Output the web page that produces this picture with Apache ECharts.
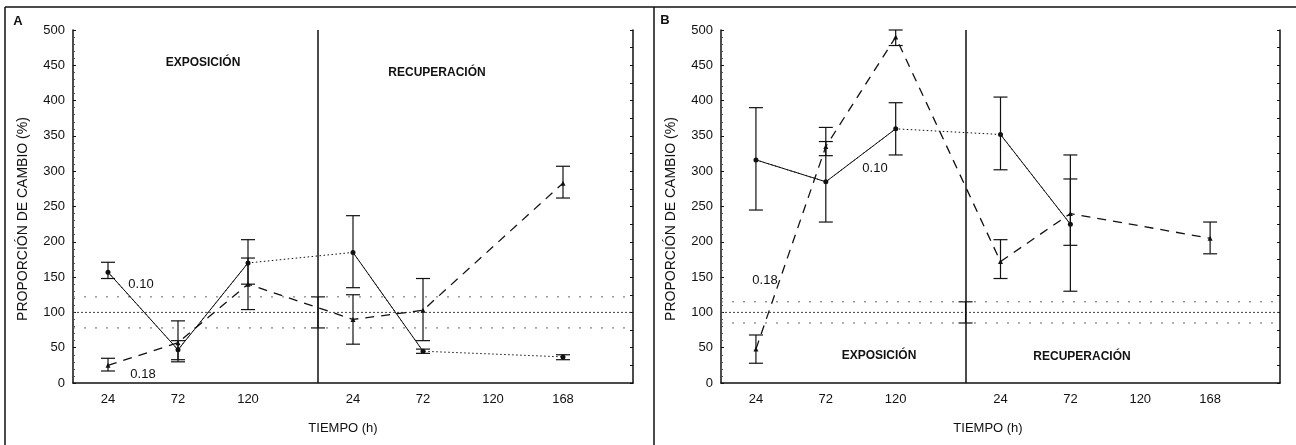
<!DOCTYPE html>
<html>
<head>
<meta charset="utf-8">
<script src="https://cdn.jsdelivr.net/npm/echarts@6/dist/echarts.min.js"></script>
<style>
html, body { margin: 0; padding: 0; background: #fff; }
#chart { width: 1296px; height: 445px; }
</style>
</head>
<body>
<div id="chart"></div>
<script>
var hoursExp = [24, 72, 120];
var hoursRec = [24, 72, 120, 168];
var yTicks = [0, 50, 100, 150, 200, 250, 300, 350, 400, 450, 500];

// Panel A, 0.10
var a10Exp = [157, 47, 170], a10ExpLo = [148, 33, 140], a10ExpHi = [171, 60, 203];
var a10Rec = [185, 45, null, 37], a10RecLo = [135, 42, null, 33], a10RecHi = [237, 48, null, 40];
// Panel A, 0.18
var a18Exp = [25, 57, 140], a18ExpLo = [17, 30, 104], a18ExpHi = [35, 88, 177];
var a18Rec = [90, 103, null, 283], a18RecLo = [55, 60, null, 262], a18RecHi = [125, 148, null, 307];
// Panel A, control (mean and band)
var aCtrl = 100, aCtrlBand = [78, 122];

// Panel B, 0.10
var b10Exp = [316, 285, 360], b10ExpLo = [245, 228, 323], b10ExpHi = [390, 362, 397];
var b10Rec = [352, 225, null, null], b10RecLo = [302, 130, null, null], b10RecHi = [405, 323, null, null];
// Panel B, 0.18
var b18Exp = [48, 335, 490], b18ExpLo = [28, 322, 478], b18ExpHi = [68, 342, 500];
var b18Rec = [172, 240, null, 205], b18RecLo = [148, 195, null, 183], b18RecHi = [203, 289, null, 228];
// Panel B, control
var bCtrl = 100, bCtrlBand = [85, 115];

var FONT = "'Liberation Sans', Arial, sans-serif";
var INK = '#111';

// x positions: exposure hours sit between ticks, recovery hours on them
function posExp(i) { return i + 0.5; }
function posRec(j) { return hoursExp.length + 1 + j; }
var dividerPos = hoursExp.length + 0.5;
var xMax = hoursExp.length + 1 + hoursRec.length;

var tickPos = [], tickText = {};
hoursExp.forEach(function (h, i) { tickPos.push(posExp(i)); tickText[posExp(i)] = String(h); });
hoursRec.forEach(function (h, j) { tickPos.push(posRec(j)); tickText[posRec(j)] = String(h); });

function points(exp, rec) {
    var pts = [];
    exp.forEach(function (v, i) { if (v != null) pts.push([posExp(i), v]); });
    rec.forEach(function (v, j) { if (v != null) pts.push([posRec(j), v]); });
    return pts;
}

function bars(exp, expLo, expHi, rec, recLo, recHi) {
    var out = [];
    exp.forEach(function (v, i) { if (v != null) out.push([posExp(i), expLo[i], expHi[i]]); });
    rec.forEach(function (v, j) { if (v != null) out.push([posRec(j), recLo[j], recHi[j]]); });
    return out;
}

// split a path in runs of neighbouring points (solid), gaps stay on the dotted path
function runs(pts) {
    var out = [], cur = [pts[0]];
    for (var k = 1; k < pts.length; k++) {
        if (pts[k][0] - pts[k - 1][0] <= 1.01) cur.push(pts[k]);
        else { out.push(cur); cur = [pts[k]]; }
    }
    out.push(cur);
    return out.filter(function (r) { return r.length > 1; });
}

function renderBar(params, api) {
    var x = api.value(0);
    var top = api.coord([x, api.value(2)]);
    var bot = api.coord([x, api.value(1)]);
    var half = 7;
    var st = { stroke: INK, lineWidth: 1.2 };
    return {
        type: 'group',
        children: [
            { type: 'line', shape: { x1: top[0], y1: top[1], x2: bot[0], y2: bot[1] }, style: st },
            { type: 'line', shape: { x1: top[0] - half, y1: top[1], x2: top[0] + half, y2: top[1] }, style: st },
            { type: 'line', shape: { x1: bot[0] - half, y1: bot[1], x2: bot[0] + half, y2: bot[1] }, style: st }
        ]
    };
}

function panelSeries(idx, p10, p18, bars10, bars18, ctrl, band) {
    var s = [];
    var ax = { xAxisIndex: idx, yAxisIndex: idx * 2 };
    function line(data, style, extra) {
        return Object.assign({
            type: 'line', data: data, symbol: 'none', silent: true, animation: false,
            lineStyle: style
        }, ax, extra || {});
    }
    // control mean and band
    s.push(line([[0, ctrl], [xMax, ctrl]], { color: '#444', width: 1, type: [2, 2] }, {
        markLine: {
            silent: true, symbol: 'none', label: { show: false }, animation: false,
            lineStyle: { color: INK, width: 1.5, type: 'solid' },
            data: [{ xAxis: dividerPos }]
        }
    }));
    s.push(line([[0, band[0]], [xMax, band[0]]], { color: '#666', width: 1, type: [2, 9] }));
    s.push(line([[0, band[1]], [xMax, band[1]]], { color: '#666', width: 1, type: [2, 9] }));
    s.push(Object.assign({ type: 'custom', renderItem: renderBar, data: [[dividerPos, band[0], band[1]]], silent: true, animation: false }, ax));

    // 0.10: dotted across gaps, solid between neighbours
    s.push(line(p10, { color: INK, width: 1, type: [1.5, 2.5] }));
    runs(p10).forEach(function (r) {
        s.push(line(r, { color: INK, width: 1, type: 'solid' }));
    });
    s.push(line(p10, { width: 0 }, { symbol: 'circle', symbolSize: 5, itemStyle: { color: INK } }));
    // 0.18 dashed
    s.push(line(p18, { color: INK, width: 1.3, type: [9, 7] }, { symbol: 'triangle', symbolSize: 5, itemStyle: { color: INK } }));

    s.push(Object.assign({ type: 'custom', renderItem: renderBar, data: bars10, silent: true, animation: false }, ax));
    s.push(Object.assign({ type: 'custom', renderItem: renderBar, data: bars18, silent: true, animation: false }, ax));
    return s;
}

var grids = [
    { left: 73, top: 30, width: 560, height: 353 },
    { left: 721, top: 30, width: 559, height: 353 }
];

var xAxes = [0, 1].map(function (g) {
    return {
        type: 'value', gridIndex: g, min: 0, max: xMax,
        axisLine: { onZero: false, lineStyle: { color: INK, width: 1.5 } },
        axisTick: { show: false },
        splitLine: { show: false },
        axisLabel: {
            customValues: tickPos, margin: 10,
            color: INK, fontFamily: FONT, fontSize: 13,
            formatter: function (v) { return tickText[v] || ''; }
        }
    };
});

var yAxes = [];
[0, 1].forEach(function (g) {
    yAxes.push({
        type: 'value', gridIndex: g, min: yTicks[0], max: yTicks[yTicks.length - 1], interval: 50,
        axisLine: { show: true, lineStyle: { color: INK, width: 1.5 } },
        axisTick: { show: true, inside: true, length: 3, lineStyle: { color: INK } },
        minorTick: { show: true, splitNumber: 5, length: 2, lineStyle: { color: '#555' } },
        splitLine: { show: false },
        axisLabel: { color: INK, fontFamily: FONT, fontSize: 13, margin: 8 }
    });
    yAxes.push({
        type: 'value', gridIndex: g, position: 'right', min: yTicks[0], max: yTicks[yTicks.length - 1], interval: 25,
        axisLine: { show: true, lineStyle: { color: INK, width: 1.5 } },
        axisTick: { show: true, inside: true, length: 3, lineStyle: { color: INK } },
        splitLine: { show: false },
        axisLabel: { show: false }
    });
});

var series = []
    .concat(panelSeries(0, points(a10Exp, a10Rec), points(a18Exp, a18Rec),
        bars(a10Exp, a10ExpLo, a10ExpHi, a10Rec, a10RecLo, a10RecHi),
        bars(a18Exp, a18ExpLo, a18ExpHi, a18Rec, a18RecLo, a18RecHi), aCtrl, aCtrlBand))
    .concat(panelSeries(1, points(b10Exp, b10Rec), points(b18Exp, b18Rec),
        bars(b10Exp, b10ExpLo, b10ExpHi, b10Rec, b10RecLo, b10RecHi),
        bars(b18Exp, b18ExpLo, b18ExpHi, b18Rec, b18RecLo, b18RecHi), bCtrl, bCtrlBand));

function txt(x, y, s, opt) {
    return {
        type: 'text', x: x, y: y, silent: true,
        style: Object.assign({
            text: s, fill: INK, font: '13px ' + FONT, align: 'center', verticalAlign: 'middle'
        }, opt || {})
    };
}

var graphics = [
    // panel frames
    { type: 'line', shape: { x1: 5, y1: 7, x2: 1296, y2: 7 }, style: { stroke: INK, lineWidth: 1.5 } },
    { type: 'line', shape: { x1: 5, y1: 7, x2: 5, y2: 445 }, style: { stroke: INK, lineWidth: 1.5 } },
    { type: 'line', shape: { x1: 654, y1: 7, x2: 654, y2: 445 }, style: { stroke: INK, lineWidth: 1.5 } },
    txt(18, 21, 'A', { font: 'bold 13px ' + FONT }),
    txt(665, 20, 'B', { font: 'bold 13px ' + FONT }),
    // axis names
    txt(23, 219, 'PROPORCIÓN DE CAMBIO (%)', { font: '14px ' + FONT }),
    txt(671, 219, 'PROPORCIÓN DE CAMBIO (%)', { font: '14px ' + FONT }),
    txt(343, 428, 'TIEMPO (h)', { font: '13px ' + FONT }),
    txt(988, 428, 'TIEMPO (h)', { font: '13px ' + FONT }),
    // annotations
    txt(203, 63, 'EXPOSICIÓN', { font: 'bold 12px ' + FONT }),
    txt(437, 73, 'RECUPERACIÓN', { font: 'bold 12px ' + FONT }),
    txt(141, 284, '0.10'),
    txt(143, 374, '0.18'),
    txt(879, 356, 'EXPOSICIÓN', { font: 'bold 12px ' + FONT }),
    txt(1082, 357, 'RECUPERACIÓN', { font: 'bold 12px ' + FONT }),
    txt(875, 168, '0.10'),
    txt(765, 280, '0.18')
];
graphics[5].rotation = Math.PI / 2;
graphics[6].rotation = Math.PI / 2;

var option = {
    animation: false,
    backgroundColor: '#fff',
    grid: grids,
    xAxis: xAxes,
    yAxis: yAxes,
    series: series,
    graphic: graphics
};

var myChart = echarts.init(document.getElementById('chart'), null, { renderer: 'canvas' });
myChart.setOption(option);
</script>
</body>
</html>
